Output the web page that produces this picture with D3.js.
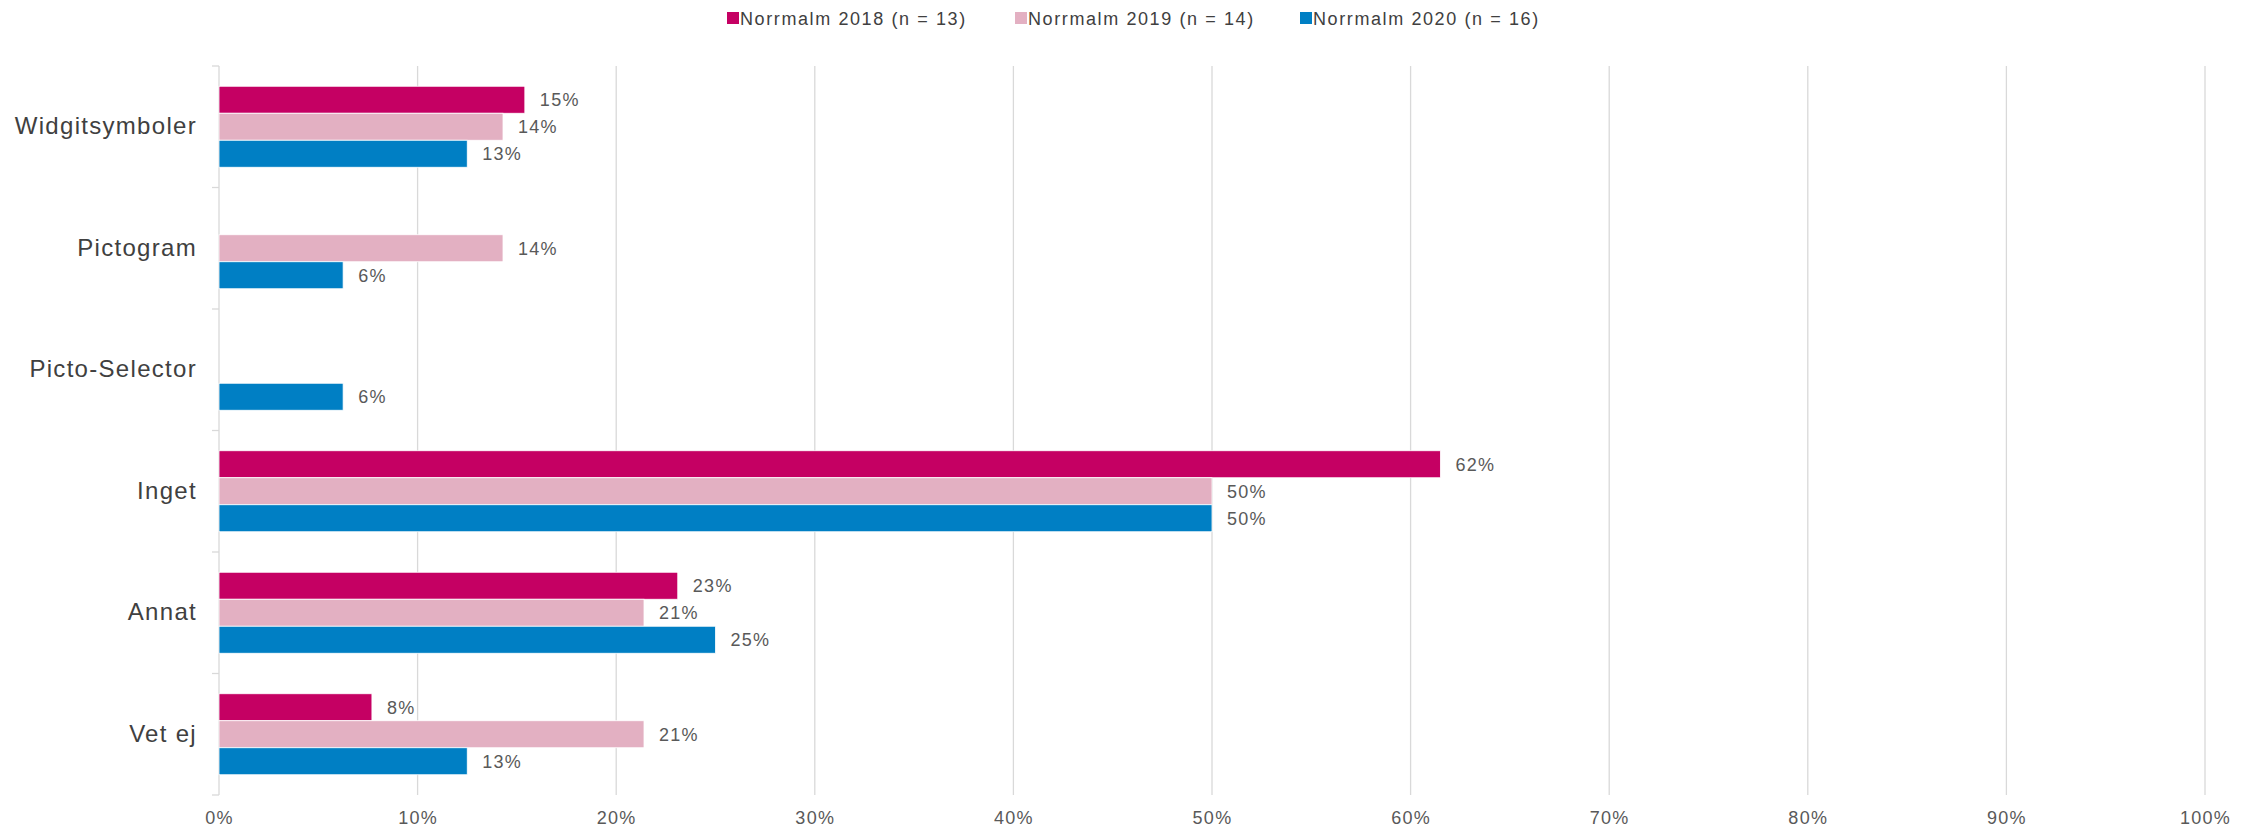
<!DOCTYPE html>
<html><head><meta charset="utf-8">
<script src="https://cdn.jsdelivr.net/npm/d3@7"></script>
<style>
body{margin:0;background:#fff;}
svg text{font-family:"Liberation Sans",Arial,sans-serif;}
</style></head>
<body><svg id="chart" width="2254" height="827"></svg>
<script>
const categories = ["Widgitsymboler","Pictogram","Picto-Selector","Inget","Annat","Vet ej"];
const seriesNames = ["Norrmalm 2018 (n = 13)","Norrmalm 2019 (n = 14)","Norrmalm 2020 (n = 16)"];
const seriesColors = ["#c50063","#e3b0c2","#007fc4"];
const values2018 = [0.154,0,0,0.615,0.231,0.077];
const values2019 = [0.143,0.143,0,0.50,0.214,0.214];
const values2020 = [0.125,0.0625,0.0625,0.50,0.25,0.125];
const xTicks = [0,0.1,0.2,0.3,0.4,0.5,0.6,0.7,0.8,0.9,1.0];

const seriesValues = [values2018, values2019, values2020];
const svg = d3.select("#chart");
const x = d3.scaleLinear().domain([0,1]).range([219,2205]);
const y = d3.scaleBand().domain(categories).range([66,795]).paddingInner(1/3).paddingOuter(1/6);
const ys = d3.scaleBand().domain(d3.range(3)).range([0,y.bandwidth()]);

// grid
svg.append("g").selectAll("line").data(xTicks).join("line")
  .attr("x1",d=>x(d)).attr("x2",d=>x(d)).attr("y1",66).attr("y2",795)
  .attr("stroke","#d9d9d9").attr("stroke-width",1.3);

// left axis category ticks
const bounds = d3.range(categories.length+1).map(i=>66+i*(729/categories.length));
svg.append("g").selectAll("line").data(bounds).join("line")
  .attr("x1",212).attr("x2",x(0)).attr("y1",d=>d).attr("y2",d=>d)
  .attr("stroke","#d9d9d9").attr("stroke-width",1.3);

// x axis labels
const xAxis = d3.axisBottom(x).tickValues(xTicks).tickFormat(d3.format(".0%")).tickSize(0).tickPadding(0);
const gx = svg.append("g").attr("transform","translate(0,812)").call(xAxis);
gx.select(".domain").remove();
gx.selectAll("text").attr("font-size",18).attr("fill","#595959").attr("letter-spacing",1.3)
  .attr("dy","0.35em").attr("y",6).style("font-family","'Liberation Sans',Arial,sans-serif");

// category labels
const yAxis = d3.axisLeft(y).tickSize(0).tickPadding(22);
const gy = svg.append("g").attr("transform",`translate(${x(0)},0)`).call(yAxis);
gy.select(".domain").remove();
gy.selectAll("text").attr("font-size",24).attr("fill","#404040").attr("letter-spacing",1.3)
  .style("font-family","'Liberation Sans',Arial,sans-serif");

// bars
seriesValues.forEach((vals,si)=>{
  const g = svg.append("g");
  const data = categories.map((c,i)=>({c, v:vals[i]})).filter(d=>d.v>0);
  g.selectAll("rect").data(data).join("rect")
    .attr("x",x(0)).attr("y",d=>y(d.c)+ys(si))
    .attr("width",d=>x(d.v)-x(0)).attr("height",ys.bandwidth())
    .attr("fill",seriesColors[si]).attr("stroke","#ffffff").attr("stroke-width",0.8);
  g.selectAll("text").data(data).join("text")
    .attr("x",d=>x(d.v)+15).attr("y",d=>y(d.c)+ys(si)+ys.bandwidth()/2)
    .attr("dy","0.35em").attr("font-size",18).attr("fill","#595959").attr("letter-spacing",1.3)
    .text(d=>d3.format(".0%")(d.v));
});

// legend
const legendX = [727,1015,1300];
const lg = svg.append("g");
seriesNames.forEach((n,i)=>{
  lg.append("rect").attr("x",legendX[i]).attr("y",12).attr("width",12).attr("height",12).attr("fill",seriesColors[i]);
  lg.append("text").attr("x",legendX[i]+13).attr("y",18.5).attr("dy","0.35em")
    .attr("font-size",18).attr("fill","#404040").attr("letter-spacing",1.6).text(n);
});
</script></body></html>
